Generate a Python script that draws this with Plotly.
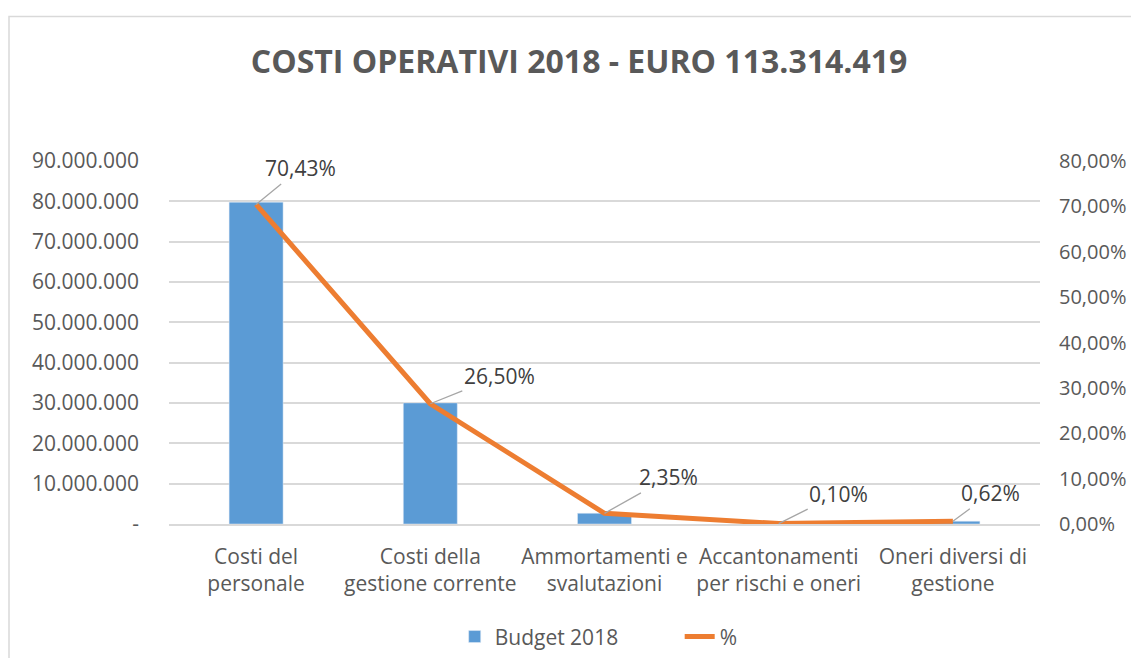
import plotly.graph_objects as go

categories = ["Costi del<br>personale", "Costi della<br>gestione corrente", "Ammortamenti e<br>svalutazioni",
              "Accantonamenti<br>per rischi e oneri", "Oneri diversi di<br>gestione"]
budget_2018 = [79_800_000, 30_030_000, 2_660_000, 113_000, 703_000]
percent = [70.43, 26.50, 2.35, 0.10, 0.62]
pct_labels = ["70,43%", "26,50%", "2,35%", "0,10%", "0,62%"]
left_tickvals = [0, 10_000_000, 20_000_000, 30_000_000, 40_000_000, 50_000_000, 60_000_000, 70_000_000, 80_000_000, 90_000_000]
left_ticktext = ["-", "10.000.000", "20.000.000", "30.000.000", "40.000.000", "50.000.000", "60.000.000", "70.000.000", "80.000.000", "90.000.000"]
right_tickvals = [0, 10, 20, 30, 40, 50, 60, 70, 80]
right_ticktext = ["0,00%", "10,00%", "20,00%", "30,00%", "40,00%", "50,00%", "60,00%", "70,00%", "80,00%"]

# label offsets (pixels) for leader lines
label_ax = [44, 69, 64, 60, 38]
label_ay = [-36, -28, -36, -30, -28]

FONT = "Open Sans"
GREY = "#595959"

fig = go.Figure()
fig.add_trace(go.Bar(x=categories, y=budget_2018, name="Budget 2018", marker_color="#5B9BD5", yaxis="y"))
fig.add_trace(go.Scatter(x=categories, y=percent, name="%", mode="lines",
                         line=dict(color="#ED7D31", width=5), yaxis="y2"))

for c, p, t, ax, ay in zip(categories, percent, pct_labels, label_ax, label_ay):
    fig.add_annotation(x=c, y=p, xref="x", yref="y2", text=t, showarrow=True, arrowhead=0,
                       arrowwidth=1.3, arrowcolor="#A6A6A6", ax=ax, ay=ay,
                       font=dict(family=FONT, size=21, color="#404040"))

fig.update_layout(
    width=1123, height=650,
    margin=dict(l=161, r=91, t=153, b=134, autoexpand=False),
    paper_bgcolor="white", plot_bgcolor="white",
    bargap=0.69,
    title=dict(text="<b>COSTI OPERATIVI 2018 - EURO 113.314.419</b>", x=0.5085, xref="container",
               y=0.917, yref="container", xanchor="center", yanchor="middle",
               font=dict(family=FONT, size=32, color=GREY)),
    font=dict(family=FONT, size=21, color=GREY),
    xaxis=dict(showgrid=False, showline=True, linecolor="#D9D9D9", linewidth=1.5, ticks="",
               automargin=False,
               tickfont=dict(family=FONT, size=21, color=GREY), ticklabelstandoff=13),
    yaxis=dict(range=[0, 90_000_000], tickvals=left_tickvals, ticktext=left_ticktext,
               automargin=False,
               showgrid=True, gridcolor="#D9D9D9", gridwidth=1.5, zeroline=False, ticks="",
               tickfont=dict(family=FONT, size=21, color=GREY), ticklabelstandoff=29),
    yaxis2=dict(range=[0, 80], tickvals=right_tickvals, ticktext=right_ticktext, overlaying="y",
                automargin=False,
                side="right", showgrid=False, zeroline=False, ticks="",
                tickfont=dict(family=FONT, size=20, color=GREY), ticklabelstandoff=18),
    legend=dict(orientation="h", x=0.328, y=-0.311, xanchor="left", yanchor="middle",
                font=dict(family=FONT, size=21, color=GREY), entrywidth=180),
    showlegend=True,
)

fig.add_shape(type="rect", xref="paper", yref="paper", x0=-0.1837, x1=1.3, y0=-0.6, y1=1.398,
              line=dict(color="#D9D9D9", width=1.5), fillcolor="rgba(0,0,0,0)", layer="below")

fig.write_html("out.html")
